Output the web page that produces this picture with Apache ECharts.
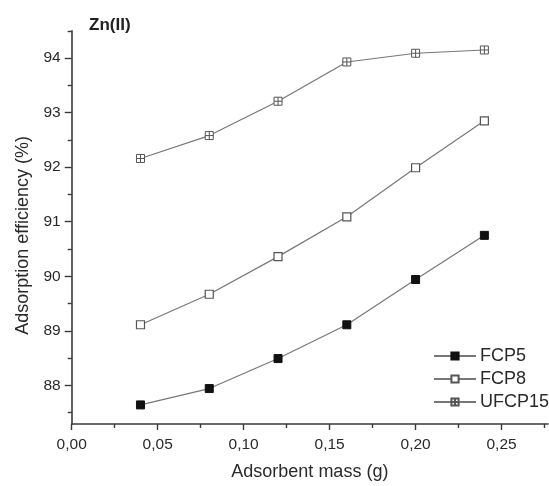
<!DOCTYPE html>
<html>
<head>
<meta charset="utf-8">
<script src="https://cdn.jsdelivr.net/npm/echarts@6/dist/echarts.min.js"></script>
<style>html,body{margin:0;padding:0;background:#fff}#c{width:549px;height:486px}</style>
</head>
<body>
<div id="c"></div>
<script>
var xValues = [0.04, 0.08, 0.12, 0.16, 0.20, 0.24];
var fcp5 = [87.64, 87.94, 88.49, 89.11, 89.94, 90.75];
var fcp8 = [89.11, 89.67, 90.36, 91.09, 91.99, 92.85];
var ufcp15 = [92.16, 92.58, 93.21, 93.93, 94.09, 94.15];
var xMajorTicks = [0, 0.05, 0.10, 0.15, 0.20, 0.25];
var xMinorTicks = [0.025, 0.075, 0.125, 0.175, 0.225, 0.275];
var yMajorTicks = [88, 89, 90, 91, 92, 93, 94];
var yMinorTicks = [87.5, 88.5, 89.5, 90.5, 91.5, 92.5, 93.5, 94.5];
var seriesNames = ['FCP5', 'FCP8', 'UFCP15'];
var titleText = 'Zn(II)';
var xName = 'Adsorbent mass (g)';
var yName = 'Adsorption efficiency (%)';

var FONT = 'Liberation Sans, Arial, sans-serif';
var TXT = '#2a2a2a';
var AX = '#3a3a3a';
var LINE = '#777';
var X_MIN = 0, X_MAX = 0.277, Y_MIN = 87.29, Y_MAX = 94.5;

function pairs(ys) { return xValues.map(function (x, i) { return [x, ys[i]]; }); }

var crossSquare = 'path://M0,0H10V10H0Z M5,0V10 M0,5H10';

var chart = echarts.init(document.getElementById('c'), null, {renderer: 'canvas'});
chart.setOption({
  backgroundColor: '#fff',
  animation: false,
  title: {
    text: titleText, left: 84, top: 12,
    textStyle: {fontFamily: FONT, fontSize: 17, fontWeight: 'bold', color: '#222'}
  },
  legend: {
    orient: 'vertical', left: 428, top: 342,
    itemWidth: 42, itemHeight: 9, itemGap: 5,
    data: seriesNames,
    textStyle: {fontFamily: FONT, fontSize: 18, color: TXT, padding: [0, 0, 0, -1]}
  },
  grid: {left: 71.7, right: 1, top: 30.9, bottom: 60.3, containLabel: false},
  xAxis: [{
    type: 'value', min: X_MIN, max: X_MAX,
    name: xName, nameLocation: 'middle', nameGap: 39,
    nameTextStyle: {fontFamily: FONT, fontSize: 18, color: TXT},
    axisLine: {show: true, onZero: false, lineStyle: {color: AX, width: 1.6}},
    axisTick: {show: true, inside: false, length: 6, customValues: xMajorTicks, lineStyle: {color: AX, width: 1.4}},
    axisLabel: {show: true, margin: 13, customValues: xMajorTicks, fontFamily: FONT, fontSize: 15.5, color: TXT,
      formatter: function (v) { return v.toFixed(2).replace('.', ','); }},
    splitLine: {show: false}
  }, {
    type: 'value', min: X_MIN, max: X_MAX, position: 'bottom',
    axisLine: {show: false},
    axisTick: {show: true, inside: false, length: 4, customValues: xMinorTicks, lineStyle: {color: AX, width: 1.4}},
    axisLabel: {show: false},
    splitLine: {show: false}
  }],
  yAxis: [{
    type: 'value', min: Y_MIN, max: Y_MAX,
    name: yName, nameLocation: 'middle', nameGap: 40,
    nameTextStyle: {fontFamily: FONT, fontSize: 18, color: TXT, padding: [0, 16, 0, 0]},
    axisLine: {show: true, onZero: false, lineStyle: {color: AX, width: 1.6}},
    axisTick: {show: true, inside: false, length: 7, customValues: yMajorTicks, lineStyle: {color: AX, width: 1.4}},
    axisLabel: {show: true, margin: 11, customValues: yMajorTicks, fontFamily: FONT, fontSize: 15.5, color: TXT},
    splitLine: {show: false}
  }, {
    type: 'value', min: Y_MIN, max: Y_MAX, position: 'left',
    axisLine: {show: false},
    axisTick: {show: true, inside: false, length: 4, customValues: yMinorTicks, lineStyle: {color: AX, width: 1.4}},
    axisLabel: {show: false},
    splitLine: {show: false}
  }],
  series: [{
    name: seriesNames[0], type: 'line', data: pairs(fcp5),
    symbol: 'rect', symbolSize: 8,
    lineStyle: {color: LINE, width: 1.2},
    itemStyle: {color: '#111', borderColor: '#111', borderWidth: 1}
  }, {
    name: seriesNames[1], type: 'line', data: pairs(fcp8),
    symbol: 'rect', symbolSize: 8,
    lineStyle: {color: LINE, width: 1.2},
    itemStyle: {color: '#fff', borderColor: '#555', borderWidth: 1.2}
  }, {
    name: seriesNames[2], type: 'line', data: pairs(ufcp15),
    symbol: crossSquare, symbolSize: 8, symbolKeepAspect: true,
    lineStyle: {color: LINE, width: 1.2},
    itemStyle: {color: '#fff', borderColor: '#555', borderWidth: 1}
  }]
});
</script>
</body>
</html>
